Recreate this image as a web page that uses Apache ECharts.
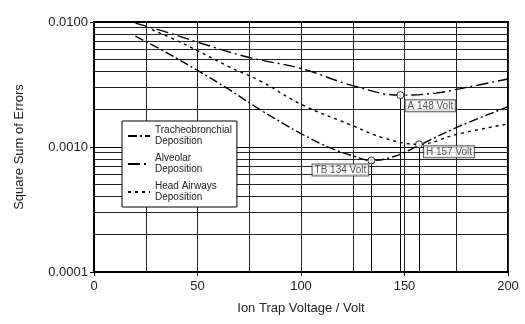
<!DOCTYPE html>
<html>
<head>
<meta charset="utf-8">
<script src="https://cdn.jsdelivr.net/npm/echarts@6.0.0/dist/echarts.min.js"></script>
<style>
html, body { margin: 0; padding: 0; background: #fff; }
#chart { width: 525px; height: 324px; }
</style>
</head>
<body>
<div id="chart"></div>
<script>
// curves: [voltage, square sum of errors]
var tbData = [[20, 0.0077], [35, 0.0057], [50, 0.0041], [65, 0.0029], [80, 0.0020], [100, 0.00128], [115, 0.00097], [125, 0.00085], [134, 0.00078], [145, 0.00084], [157, 0.00103], [175, 0.00143], [200, 0.0021]];
var aData = [[20, 0.0098], [35, 0.0083], [50, 0.0069], [75, 0.0052], [100, 0.00425], [125, 0.0031], [148, 0.0026], [165, 0.0027], [180, 0.0030], [200, 0.0035]];
var hData = [[28, 0.0087], [40, 0.0071], [50, 0.0059], [65, 0.0044], [80, 0.0034], [100, 0.0022], [125, 0.00148], [140, 0.00118], [157, 0.00105], [175, 0.00126], [200, 0.00153]];

var optima = [
	{ name: 'TB 134 Volt', value: [134, 0.00078], offset: [-31, -5] },
	{ name: 'A 148 Volt', value: [148, 0.0026], offset: [30, -4] },
	{ name: 'H 157 Volt', value: [157, 0.00105], offset: [30, -7] }
];

var minorLevels = [0.0002, 0.0003, 0.0004, 0.0005, 0.0006, 0.0007, 0.0008, 0.0009,
	0.002, 0.003, 0.004, 0.005, 0.006, 0.007, 0.008, 0.009];

var font = 'Liberation Sans';

var chart = echarts.init(document.getElementById('chart'));

// minor log grid lines across the whole plot
var gridLines = [];
for (var i = 0; i < minorLevels.length; i++) {
	gridLines.push([
		{ coord: [0, minorLevels[i]] },
		{ coord: [200, minorLevels[i]] }
	]);
}

var dropLines = [];
for (var j = 0; j < optima.length; j++) {
	dropLines.push([
		{ coord: optima[j].value },
		{ coord: [optima[j].value[0], 0.0001] }
	]);
}

var option = {
	animation: false,
	textStyle: { fontFamily: font },
	color: ['#000', '#000', '#000'],
	grid: {
		left: 94, top: 22, width: 414, height: 250,
		show: true, borderColor: '#000', borderWidth: 2, backgroundColor: '#fff'
	},
	legend: {
		orient: 'vertical',
		left: 122, top: 121,
		backgroundColor: '#fff',
		borderColor: '#000',
		borderWidth: 1,
		padding: [4, 5, 4, 5],
		itemGap: 6,
		itemWidth: 22,
		itemHeight: 10,
		itemStyle: { opacity: 0 },
		textStyle: { fontSize: 10, color: '#222', fontFamily: font, lineHeight: 11 },
		data: ['Tracheobronchial\nDeposition', 'Alveolar\nDeposition', 'Head Airways\nDeposition']
	},
	xAxis: [
		{
			type: 'value', min: 0, max: 200, interval: 25,
			axisLine: { show: false },
			axisTick: { show: false },
			axisLabel: { show: false },
			splitLine: { show: true, lineStyle: { color: '#222', width: 1 } }
		},
		{
			type: 'value', min: 0, max: 200, interval: 50, position: 'bottom',
			name: 'Ion Trap Voltage / Volt', nameLocation: 'middle', nameGap: 30,
			nameTextStyle: { fontSize: 13, color: '#222', fontFamily: font },
			axisLine: { show: true, lineStyle: { color: '#000', width: 2 } },
			axisTick: { show: true, length: 4, lineStyle: { color: '#000' } },
			axisLabel: { fontSize: 13, color: '#222', margin: 8, fontFamily: font },
			splitLine: { show: false }
		}
	],
	yAxis: {
		type: 'log', logBase: 10, min: 0.0001, max: 0.01,
		name: 'Square Sum of Errors', nameLocation: 'middle', nameGap: 68,
		nameTextStyle: { fontSize: 13, color: '#222', fontFamily: font },
		axisLine: { show: true, lineStyle: { color: '#000', width: 2 } },
		axisTick: { show: true, length: 4, lineStyle: { color: '#000' } },
		axisLabel: {
			fontSize: 13, color: '#222', margin: 6, fontFamily: font,
			formatter: function (v) { return v.toFixed(4); }
		},
		splitLine: { show: true, lineStyle: { color: '#000', width: 1 } }
	},
	series: [
		{
			name: 'Tracheobronchial\nDeposition', type: 'line', smooth: 0.4,
			symbol: 'none', data: tbData, z: 3,
			lineStyle: { color: '#000', width: 1.4, type: [9, 3, 2, 3] },
			markLine: {
				silent: true, symbol: 'none', label: { show: false }, z: 1,
				lineStyle: { color: '#222', width: 1, type: 'solid' },
				data: gridLines
			}
		},
		{
			name: 'Alveolar\nDeposition', type: 'line', smooth: 0.4,
			symbol: 'none', data: aData, z: 3,
			lineStyle: { color: '#000', width: 1.4, type: [12, 4, 2, 4] }
		},
		{
			name: 'Head Airways\nDeposition', type: 'line', smooth: 0.4,
			symbol: 'none', data: hData, z: 3,
			lineStyle: { color: '#000', width: 1.4, type: [3, 4] }
		},
		{
			name: 'optimum', type: 'scatter', z: 5,
			symbol: 'circle', symbolSize: 7,
			itemStyle: { color: '#fff', borderColor: '#000', borderWidth: 1 },
			data: optima.map(function (o) {
				return {
					name: o.name, value: o.value,
					label: {
						show: true, formatter: '{b}',
						position: 'bottom',
						offset: o.offset,
						fontSize: 10, color: '#222', fontFamily: font,
						backgroundColor: '#fff', borderColor: '#333', borderWidth: 1,
						padding: [1, 2, 0, 2]
					}
				};
			}),
			markLine: {
				silent: true, symbol: 'none', label: { show: false },
				lineStyle: { color: '#000', width: 1, type: 'solid' },
				data: dropLines
			}
		}
	]
};

chart.setOption(option);
window.onresize = chart.resize;
</script>
</body>
</html>
